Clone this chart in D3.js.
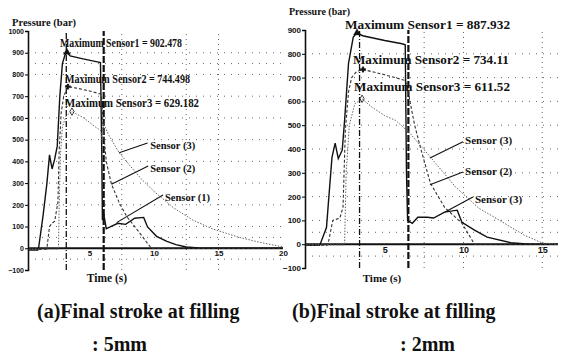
<!DOCTYPE html>
<html>
<head>
<meta charset="utf-8">
<script src="https://cdn.jsdelivr.net/npm/d3@7"></script>
<style>
  body { margin: 0; background: #fff; }
  svg { display: block; }
  .tick text { font-family: "Liberation Sans", Arial, sans-serif; font-weight: bold; }
</style>
</head>
<body>
<script>
var width = 564,
    height = 362;

// Panel (a): final stroke 5mm  -- [time (s), pressure (bar)]
var aSensor1 = [[0.3,-8],[1.0,-8],[1.05,0],[1.4,150],[1.7,300],[1.9,430],[2.1,365],[2.3,410],[2.5,470],[2.7,700],[2.9,850],[3.1,890],[3.25,902],[3.5,885],[4.5,872],[5.7,857],[5.85,855],[5.95,450],[6.0,130],[6.1,160],[6.3,90],[6.6,98],[7.2,115],[7.8,110],[8.5,138],[9.2,142],[9.5,98],[10.2,55],[11.0,32],[11.7,17],[12.5,6],[13.5,1],[20,0]];
var aSensor2 = [[0.3,-5],[1.6,-5],[1.7,0],[1.9,100],[2.1,115],[2.3,125],[2.55,210],[2.65,450],[2.8,620],[3.0,700],[3.33,744],[4.0,737],[5.0,724],[5.85,710],[5.95,690],[6.05,560],[6.3,400],[6.7,295],[7.3,210],[7.9,145],[8.9,70],[9.4,30],[9.8,0],[20,0]];
var aSensor3 = [[0.3,-4],[2.5,-4],[2.6,0],[2.65,200],[2.75,430],[2.9,560],[3.2,610],[3.64,629],[4.5,602],[5.5,557],[5.9,540],[6.0,480],[6.08,575],[6.5,520],[7.3,440],[8.0,390],[9.0,320],[10.0,262],[11.5,187],[13.0,130],[14.5,90],[16.5,52],[18.0,30],[20.0,6]];
var aMax = ["Maximum Sensor1 = 902.478", "Maximum Sensor2 = 744.498", "Maximum Sensor3 = 629.182"];
var aPeaks = [[3.25,902],[3.33,744],[3.64,629]];
var aCallouts = ["Sensor (3)", "Sensor (2)", "Sensor (1)"];
var aXTicks = [5, 10, 15, 20];
var aYTicks = [-100, 0, 100, 200, 300, 400, 500, 600, 700, 800, 900, 1000];

// Panel (b): final stroke 2mm
var bSensor1 = [[0,-5],[0.85,-5],[0.9,0],[1.3,70],[1.5,240],[1.65,365],[1.85,425],[2.05,360],[2.3,395],[2.45,520],[2.7,760],[3.0,870],[3.24,888],[3.6,876],[5.0,856],[6.1,842],[6.3,838],[6.38,300],[6.45,100],[6.75,88],[7.1,113],[7.7,113],[8.1,110],[8.8,135],[9.6,143],[9.9,92],[10.7,59],[11.5,30],[13.0,6],[14.0,1],[16,0]];
var bSensor2 = [[0,-4],[1.35,-4],[1.4,0],[1.7,100],[2.15,110],[2.35,155],[2.5,480],[2.7,640],[2.9,700],[3.2,725],[3.62,734],[5.0,712],[6.3,688],[6.45,660],[6.6,600],[6.9,500],[7.25,410],[7.9,256],[8.8,155],[9.9,88],[10.7,0],[16,0]];
var bSensor3 = [[0,-3],[2.4,-3],[2.45,0],[2.55,300],[2.75,500],[3.1,590],[3.56,611],[4.2,575],[5.0,540],[5.7,520],[6.6,466],[7.9,366],[9.5,240],[11.0,150],[12.3,100],[13.8,40],[15.0,5],[16,0]];
var bMax = ["Maximum Sensor1 = 887.932", "Maximum Sensor2 = 734.11", "Maximum Sensor3 = 611.52"];
var bPeaks = [[3.24,888],[3.62,734],[3.56,611]];
var bCallouts = ["Sensor (3)", "Sensor (2)", "Sensor (3)"];
var bXTicks = [5, 10, 15];
var bYTicks = [-100, 0, 100, 200, 300, 400, 500, 600, 700, 800, 900];

var captions = [["(a)Final stroke at filling", ": 5mm"], ["(b)Final stroke at filling", ": 2mm"]];

var svg = d3.select("body").append("svg")
    .attr("width", width)
    .attr("height", height);

var serif = "'Liberation Serif', 'Times New Roman', serif";

function drawPanel(p) {
  var x = d3.scaleLinear().domain(p.xDomain).range(p.xRange);
  var y = d3.scaleLinear().domain(p.yDomain).range(p.yRange);
  var g = svg.append("g");
  var x0 = p.axisX;

  // dotted grid
  g.selectAll(".hgrid")
    .data(p.hGrid)
    .enter().append("line")
    .attr("x1", x0).attr("x2", p.xRange[1])
    .attr("y1", function(d) { return y(d); })
    .attr("y2", function(d) { return y(d); })
    .attr("stroke", "#666")
    .attr("stroke-width", 1)
    .attr("stroke-dasharray", "1,6");
  g.selectAll(".vgrid")
    .data(p.vGrid)
    .enter().append("line")
    .attr("x1", function(d) { return x(d); })
    .attr("x2", function(d) { return x(d); })
    .attr("y1", p.yRange[0]).attr("y2", p.yRange[1])
    .attr("stroke", "#666")
    .attr("stroke-width", 1)
    .attr("stroke-dasharray", "1,4");

  // vertical markers (dash-dot and thick dashed)
  g.append("line")
    .attr("x1", x(p.markA)).attr("x2", x(p.markA))
    .attr("y1", p.yRange[0]).attr("y2", p.yRange[1])
    .attr("stroke", "#111").attr("stroke-width", 1.3)
    .attr("stroke-dasharray", "6,2,1,2");
  g.append("line")
    .attr("x1", x(p.markB)).attr("x2", x(p.markB))
    .attr("y1", p.yRange[0]).attr("y2", p.yRange[1])
    .attr("stroke", "#111").attr("stroke-width", 2.2)
    .attr("stroke-dasharray", "7,2");

  // zero baseline
  g.append("line")
    .attr("x1", x0).attr("x2", p.xRange[1])
    .attr("y1", y(0)).attr("y2", y(0))
    .attr("stroke", "#111").attr("stroke-width", 2);

  var line = d3.line()
    .x(function(d) { return x(d[0]); })
    .y(function(d) { return y(d[1]); });

  var styles = [
    {stroke: "#111", width: 1.4, dash: null},
    {stroke: "#333", width: 1.1, dash: "3,2"},
    {stroke: "#666", width: 1, dash: "1.5,1.5"}
  ];
  p.series.forEach(function(s, i) {
    g.append("path")
      .datum(s)
      .attr("fill", "none")
      .attr("stroke", styles[i].stroke)
      .attr("stroke-width", styles[i].width)
      .attr("stroke-dasharray", styles[i].dash)
      .attr("d", line);
  });

  // peak markers
  var sym = [d3.symbolTriangle, d3.symbolCross, d3.symbolDiamond];
  p.peaks.forEach(function(d, i) {
    g.append("path")
      .attr("d", d3.symbol().type(sym[i]).size(i == 0 ? 22 : 16)())
      .attr("transform", "translate(" + x(d[0]) + "," + y(d[1]) + ")")
      .attr("fill", i == 2 ? "none" : "#111")
      .attr("stroke", "#111")
      .attr("stroke-width", i == 2 ? 0.8 : 0.3);
  });

  // max annotations (squeezed like the scan)
  p.maxText.forEach(function(t, i) {
    g.append("text")
      .attr("x", x(p.maxPos[i][0]))
      .attr("y", y(p.maxPos[i][1]))
      .attr("font-family", serif)
      .attr("font-weight", "bold")
      .attr("font-size", p.maxSize)
      .attr("textLength", p.maxWidth[i])
      .attr("lengthAdjust", "spacingAndGlyphs")
      .attr("fill", "#111")
      .text(t);
  });

  // callouts
  p.callouts.forEach(function(t, i) {
    var c = p.calloutPos[i];
    g.append("line")
      .attr("x1", x(c.from[0])).attr("y1", y(c.from[1]))
      .attr("x2", x(c.to[0])).attr("y2", y(c.to[1]))
      .attr("stroke", "#111").attr("stroke-width", 1.1);
    g.append("text")
      .attr("x", x(c.text[0]))
      .attr("y", y(c.text[1]))
      .attr("font-family", serif)
      .attr("font-weight", "bold")
      .attr("font-size", p.calloutSize)
      .attr("fill", "#111")
      .text(t);
  });

  // axes
  var yAxis = d3.axisLeft(y).tickValues(p.yTicks).tickSize(3).tickPadding(1).tickFormat(d3.format("d"));
  g.append("g")
    .attr("transform", "translate(" + x0 + ",0)")
    .call(yAxis)
    .call(function(a) {
      a.select(".domain").attr("stroke", "#111").attr("stroke-width", 1.6);
      a.selectAll("text").attr("font-size", p.tickSize).attr("fill", "#111");
    });
  var xAxis = d3.axisBottom(x).tickValues(p.xTicks).tickSize(0).tickPadding(2);
  g.append("g")
    .attr("transform", "translate(0," + y(0) + ")")
    .call(xAxis)
    .call(function(a) {
      a.select(".domain").remove();
      a.selectAll("text").attr("font-size", p.tickSize + 1).attr("fill", "#111")
        .attr("font-family", serif);
    });

  // titles
  g.append("text")
    .attr("x", p.yTitle[0]).attr("y", p.yTitle[1])
    .attr("font-family", serif).attr("font-weight", "bold")
    .attr("font-size", p.titleSize).attr("fill", "#111")
    .text("Pressure (bar)");
  g.append("text")
    .attr("x", p.xTitle[0]).attr("y", p.xTitle[1])
    .attr("text-anchor", "middle")
    .attr("font-family", serif).attr("font-weight", "bold")
    .attr("font-size", p.titleSize + 1).attr("fill", "#111")
    .text("Time (s)");

  // caption
  g.append("text")
    .attr("x", p.caption[0]).attr("y", p.caption[1])
    .attr("font-family", serif).attr("font-weight", "bold")
    .attr("font-size", 20).attr("fill", "#111")
    .text(p.captionText[0]);
  g.append("text")
    .attr("x", p.caption[2]).attr("y", p.caption[3])
    .attr("font-family", serif).attr("font-weight", "bold")
    .attr("font-size", 20).attr("fill", "#111")
    .text(p.captionText[1]);
}

drawPanel({
  xDomain: [0, 20], xRange: [25, 283],
  yDomain: [-100, 1000], yRange: [270, 31],
  axisX: 28,
  hGrid: [-50, 50, 100, 200, 300, 400, 500, 600, 700, 800, 850, 900],
  vGrid: [7.5, 12.5, 15],
  markA: 3.2, markB: 6.1,
  series: [aSensor1, aSensor2, aSensor3],
  peaks: aPeaks,
  maxText: aMax, maxPos: [[2.71, 926], [3.1, 761], [3.1, 650]], maxSize: 12,
  maxWidth: [122, 125, 134],
  callouts: aCallouts,
  calloutPos: [
    {text: [9.7, 457], from: [9.5, 485], to: [7.3, 440]},
    {text: [9.7, 351], from: [9.55, 379], to: [6.7, 295]},
    {text: [10.85, 218], from: [10.7, 245], to: [7.1, 118]}
  ],
  calloutSize: 10.5,
  yTicks: aYTicks, xTicks: aXTicks, tickSize: 7,
  yTitle: [12, 26], xTitle: [107, 282], titleSize: 10.5,
  caption: [37, 318, 92, 351], captionText: captions[0]
});

drawPanel({
  xDomain: [0, 16], xRange: [306, 558],
  yDomain: [-100, 900], yRange: [268, 30],
  axisX: 305,
  hGrid: [-50, 50, 100, 200, 300, 400, 500, 600, 700, 800],
  vGrid: [7.5, 10, 15],
  markA: 3.4, markB: 6.5,
  series: [bSensor1, bSensor2, bSensor3],
  peaks: bPeaks,
  maxText: bMax, maxPos: [[2.48, 904], [2.98, 757], [3.05, 644]], maxSize: 13,
  maxWidth: [165, 156, 156],
  callouts: bCallouts,
  calloutPos: [
    {text: [10.1, 421], from: [9.97, 430], to: [7.87, 362]},
    {text: [10.1, 291], from: [9.97, 303], to: [7.87, 250]},
    {text: [10.73, 173], from: [10.6, 198], to: [8.83, 135]}
  ],
  calloutSize: 11,
  yTicks: bYTicks, xTicks: bXTicks, tickSize: 8,
  yTitle: [289, 15], xTitle: [382, 282], titleSize: 10,
  caption: [292, 318, 400, 351], captionText: captions[1]
});
</script>
</body>
</html>
